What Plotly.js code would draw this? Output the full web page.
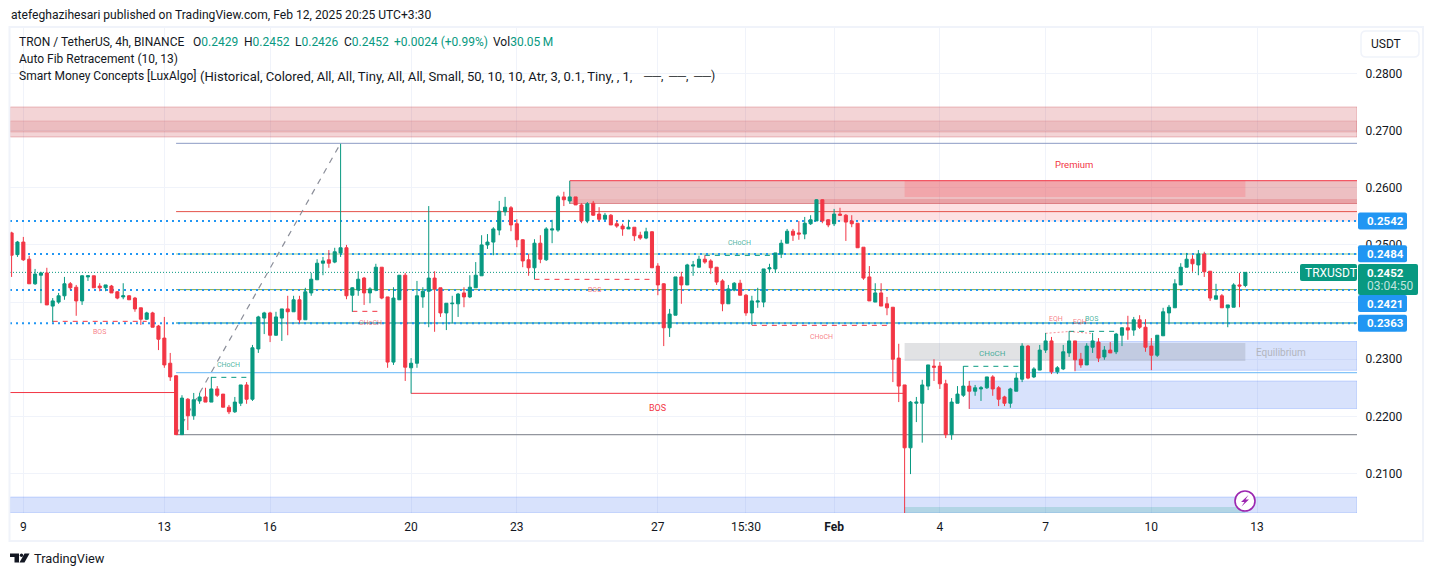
<!DOCTYPE html>
<html><head><meta charset="utf-8">
<script src="https://cdn.plot.ly/plotly-3.0.1.min.js"></script>
<style>html,body{margin:0;padding:0;background:#fff;overflow:hidden}#c{width:1433px;height:576px}</style>
</head><body><div id="c"></div>
<script>
// ---------- candle data (4h TRX/USDT) ----------
const open_ = [.2521,.2483,.2505,.2475,.2432,.2447,.2451,.2393,.2400,.2411,.2432,.2426,.2402,.2444,.2446,.2428,.2425,.2428,.2418,.2409,.2411,.2407,.2390,.2370,.2381,.2358,.2337,.2293,.2271,.2168,
.2230,.2201,.2227,.2234,.2225,.2248,.2239,.2216,.2208,.2223,.2255,.2230,.2318,.2372,.2381,.2342,.2372,.2388,.2383,.2404,.2369,.2416,.2439,.2468,.2474,.2470,.2486,.2495,.2412,.2421,
.2442,.2416,.2421,.2461,.2409,.2295,.2404,.2447,.2285,.2293,.2409,.2419,.2442,.2425,.2381,.2397,.2397,.2416,.2409,.2425,.2446,.2500,.2505,.2526,.2558,.2565,.2537,.2509,.2474,.2460,
.2503,.2474,.2526,.2526,.2584,.2577,.2584,.2570,.2542,.2573,.2554,.2545,.2552,.2537,.2533,.2528,.2531,.2517,.2512,.2523,.2463,.2432,.2355,.2377,.2444,.2430,.2463,.2461,.2475,.2472,
.2461,.2437,.2397,.2421,.2433,.2412,.2381,.2400,.2400,.2458,.2458,.2484,.2503,.2524,.2521,.2519,.2537,.2542,.2579,.2544,.2537,.2554,.2552,.2542,.2538,.2496,.2444,.2400,.2416,.2397,
.2391,.2302,.2255,.2145,.2223,.2223,.2253,.2288,.2288,.2257,.2168,.2223,.2237,.2253,.2244,.2248,.2250,.2269,.2250,.2234,.2223,.2244,.2265,.2323,.2269,.2281,.2316,.2332,.2278,.2283,
.2311,.2332,.2300,.2290,.2321,.2330,.2304,.2316,.2313,.2342,.2355,.2351,.2369,.2356,.2323,.2307,.2341,.2381,.2390,.2430,.2461,.2475,.2465,.2484,.2454,.2405,.2411,.2390,.2391,.2430,.2429];
const high_ = [.2523,.2507,.2514,.2481,.2458,.2453,.2460,.2407,.2416,.2444,.2435,.2430,.2447,.2447,.2446,.2433,.2430,.2430,.2419,.2433,.2412,.2409,.2390,.2383,.2383,.2360,.2374,.2311,.2272,.2237,
.2232,.2241,.2241,.2250,.2269,.2253,.2239,.2220,.2234,.2255,.2260,.2325,.2376,.2383,.2383,.2383,.2388,.2411,.2411,.2411,.2425,.2451,.2475,.2479,.2491,.2495,.2677,.2500,.2426,.2454,
.2444,.2426,.2467,.2461,.2409,.2426,.2447,.2451,.2302,.2437,.2426,.2568,.2454,.2425,.2398,.2411,.2416,.2426,.2447,.2470,.2517,.2519,.2531,.2577,.2584,.2568,.2545,.2510,.2484,.2510,
.2517,.2531,.2544,.2587,.2593,.2612,.2584,.2573,.2575,.2577,.2566,.2556,.2554,.2542,.2537,.2544,.2531,.2523,.2530,.2524,.2468,.2433,.2388,.2444,.2453,.2467,.2472,.2481,.2482,.2475,
.2461,.2440,.2430,.2435,.2439,.2414,.2411,.2425,.2458,.2467,.2486,.2509,.2528,.2528,.2542,.2549,.2552,.2580,.2580,.2545,.2563,.2565,.2554,.2552,.2538,.2496,.2463,.2433,.2433,.2409,
.2391,.2327,.2255,.2227,.2234,.2264,.2290,.2300,.2295,.2264,.2232,.2253,.2288,.2262,.2255,.2253,.2269,.2272,.2253,.2236,.2250,.2276,.2328,.2325,.2286,.2325,.2346,.2339,.2288,.2325,
.2349,.2332,.2311,.2328,.2346,.2337,.2323,.2330,.2346,.2356,.2376,.2374,.2377,.2370,.2337,.2342,.2390,.2395,.2440,.2468,.2486,.2482,.2491,.2488,.2454,.2432,.2414,.2395,.2433,.2451,.2452];
const low_ = [.2444,.2479,.2472,.2432,.2430,.2398,.2395,.2365,.2397,.2404,.2421,.2376,.2395,.2437,.2425,.2419,.2419,.2416,.2405,.2405,.2404,.2383,.2360,.2369,.2356,.2316,.2285,.2262,.2168,.2168,
.2176,.2194,.2222,.2225,.2225,.2234,.2216,.2204,.2206,.2218,.2222,.2227,.2311,.2344,.2330,.2341,.2332,.2342,.2383,.2363,.2369,.2411,.2439,.2447,.2460,.2468,.2479,.2405,.2383,.2411,
.2395,.2398,.2419,.2405,.2285,.2290,.2404,.2262,.2240,.2285,.2390,.2356,.2348,.2374,.2351,.2363,.2374,.2391,.2407,.2425,.2446,.2493,.2482,.2517,.2551,.2524,.2496,.2461,.2446,.2440,
.2468,.2472,.2503,.2523,.2568,.2572,.2570,.2538,.2538,.2551,.2542,.2544,.2535,.2530,.2516,.2528,.2507,.2509,.2510,.2460,.2412,.2323,.2339,.2377,.2397,.2430,.2446,.2461,.2467,.2449,
.2430,.2384,.2397,.2419,.2412,.2376,.2360,.2390,.2391,.2451,.2451,.2477,.2503,.2507,.2509,.2510,.2535,.2542,.2538,.2531,.2533,.2551,.2507,.2531,.2495,.2439,.2402,.2400,.2393,.2377,
.2260,.2225,.2030,.2099,.2190,.2154,.2246,.2262,.2248,.2162,.2159,.2223,.2234,.2213,.2236,.2227,.2248,.2236,.2218,.2218,.2215,.2244,.2260,.2265,.2267,.2281,.2311,.2274,.2274,.2281,
.2304,.2279,.2285,.2290,.2311,.2295,.2299,.2311,.2309,.2323,.2334,.2341,.2353,.2313,.2281,.2304,.2341,.2363,.2390,.2430,.2461,.2453,.2447,.2444,.2402,.2405,.2390,.2356,.2391,.2391,.2426];
const close_ = [.2482,.2505,.2474,.2432,.2449,.2451,.2395,.2402,.2411,.2432,.2425,.2402,.2446,.2446,.2425,.2425,.2430,.2416,.2407,.2411,.2404,.2388,.2370,.2381,.2356,.2335,.2290,.2269,.2168,.2232,
.2201,.2229,.2234,.2225,.2248,.2237,.2216,.2208,.2225,.2255,.2230,.2320,.2374,.2381,.2342,.2374,.2388,.2383,.2404,.2369,.2418,.2440,.2468,.2472,.2468,.2488,.2495,.2411,.2425,.2440,
.2416,.2423,.2461,.2407,.2295,.2407,.2447,.2286,.2293,.2411,.2419,.2442,.2423,.2381,.2398,.2398,.2414,.2409,.2426,.2447,.2500,.2505,.2528,.2559,.2566,.2535,.2509,.2472,.2460,.2503,
.2475,.2528,.2528,.2584,.2579,.2584,.2570,.2542,.2572,.2552,.2545,.2552,.2535,.2533,.2528,.2531,.2516,.2512,.2523,.2460,.2430,.2355,.2379,.2444,.2430,.2465,.2465,.2475,.2470,.2460,
.2435,.2397,.2423,.2433,.2412,.2381,.2402,.2402,.2458,.2460,.2486,.2503,.2524,.2517,.2519,.2538,.2544,.2579,.2542,.2535,.2554,.2552,.2540,.2537,.2495,.2442,.2402,.2416,.2393,.2390,
.2300,.2253,.2145,.2225,.2225,.2255,.2290,.2286,.2257,.2168,.2225,.2239,.2253,.2244,.2250,.2250,.2269,.2248,.2230,.2223,.2248,.2267,.2323,.2267,.2283,.2316,.2332,.2278,.2285,.2313,
.2332,.2299,.2290,.2323,.2332,.2302,.2316,.2311,.2344,.2355,.2351,.2369,.2356,.2321,.2307,.2342,.2383,.2391,.2432,.2461,.2475,.2467,.2484,.2453,.2407,.2411,.2390,.2395,.2430,.2428,.2452];
const candleIndex = open_.map((_, i) => i);

// ---------- axes ----------
const priceTicks = [.21,.22,.23,.24,.25,.26,.27,.28];
const timeTickIndex = [2,26,44,68,86,110,125,140,158,176,194,212];
const timeTickLabels = ['9','13','16','20','23','27','15:30','<b>Feb</b>','4','7','10','13'];

// ---------- indicator levels (prices) ----------
const priceLineLevels = [.2542,.2484,.2421,.2363];
const lastClose = .2452;
const fibLevels = [.26778,.25583,.24841,.24218,.23634,.22764,.21679];
const upperSupply = [.26889,.27414];
const upperSupplyCore = [.26976,.27169];
const premiumZone = [.25725,.26124];
const premiumCore = [.25839,.26124];
const premiumEdge = [.25725,.25804];
const premiumLight = [.25410,.25804];
const equilibriumZone = [.22969,.23284];
const demandUpper = [.22806,.23310];
const demandLower = [.22137,.22619];
const demandBottom = [.20309,.20588];
const demandBottomCore = [.20309,.20413];
const bosLevelLeft = .22417;
const bosLevelMid = .22403;
// structure breaks: [start candle, end candle, price]
const structBos1 = [7,23,.23663];
const structChochUp1 = [34,41,.22683];
const structChochDown1 = [58,63,.23838];
const structBos2 = [89,109,.24398];
const structChochUp2 = [118,130,.24818];
const structChochDown2 = [126,150,.23593];
const structChochUp3 = [162,172,.22876];
const structBos3 = [180,188,.23488];
const eqhA = [176,180,.23453,.23485];
const eqhB = [180,184,.23485,.23450];
const impulse = [28,56,.21679,.26778];

// ---------- layout ----------
const W=1433,H=576,L=10,R=1357,T=28,B=513;
const xR=[-0.27,229.0], yR=[.20309,.28796];
const X0=xR[0],X1=xR[1];
const px=x=>(x-L)/(R-L), py=y=>(B-y)/(B-T);
const FONT='Roboto, sans-serif', INK='#131722', UP='#089981', DOWN='#F23645', BLUE='#2196F3';

const shapes=[];
const below=(o)=>shapes.push(Object.assign({layer:'between',xref:'x',yref:'y'},o));
const hline=(x0,x1,y,color,width,dash)=>below({type:'line',x0,x1,y0:y,y1:y,line:{color,width,dash:dash||'solid'}});
const zone=(x0,x1,pair,fill,border)=>below({type:'rect',x0,x1,y0:pair[0],y1:pair[1],fillcolor:fill,line:{width:border?1:0,color:border||'rgba(0,0,0,0)'}});
const redA=a=>`rgba(200,60,70,${a})`;
const BLUEFILL='rgba(60,110,240,.2)', BLUEEDGE='rgba(41,98,255,.22)';

zone(X0,X1,upperSupply,redA(.22),redA(.3));
zone(X0,X1,upperSupplyCore,redA(.15),redA(.18));
zone(138,X1,premiumLight,'rgba(242,54,69,.15)');
zone(95,X1,premiumZone,redA(.33));
zone(95,X1,premiumEdge,redA(.08));
zone(152,210,premiumCore,'rgba(250,100,110,.28)');
hline(95,X1,premiumZone[1],DOWN,1);
hline(95,X1,premiumZone[0],redA(.5),1);
zone(181,X1,demandUpper,BLUEFILL,BLUEEDGE);
zone(163,X1,demandLower,BLUEFILL,BLUEEDGE);
zone(X0,X1,demandBottom,BLUEFILL,BLUEEDGE);
zone(152,210,demandBottomCore,'rgba(8,153,129,.18)');
zone(152,210,equilibriumZone,'rgba(120,123,134,.22)');

const fibColors=['#8C9BC4','#E5534B','#81C784','#7FA84A','#00897B','#64B5F6','#787B86'];
fibLevels.forEach((y,k)=>hline(28,X1,y,fibColors[k],1));
below({type:'line',x0:impulse[0],x1:impulse[1],y0:impulse[2],y1:impulse[3],line:{color:'#8b8e99',width:1.2,dash:'6px,6px'}});

hline(X0,28,bosLevelLeft,DOWN,1);
hline(68,152,bosLevelMid,DOWN,1);
const D='5px,5px';
const struct=(a,c)=>hline(a[0],a[1],a[2],c,1,D);
struct(structBos1,DOWN);struct(structChochUp1,UP);struct(structChochDown1,DOWN);struct(structBos2,DOWN);
struct(structChochUp2,UP);struct(structChochDown2,DOWN);struct(structChochUp3,UP);struct(structBos3,UP);
[eqhA,eqhB].forEach(e=>below({type:'line',x0:e[0],x1:e[1],y0:e[2],y1:e[3],line:{color:'rgba(242,54,69,.55)',width:1,dash:'2px,2px'}}));
priceLineLevels.forEach(y=>hline(X0,X1,y,BLUE,2,'2px,4px'));
hline(X0,X1,lastClose,UP,1,'1px,2px');

// page furniture in pixel terms
const over=(o)=>shapes.push(Object.assign({layer:'above',xref:'paper',yref:'paper'},o));
const rr=(x0,y0,x1,y1,r)=>{const a=px,b=py;return `M${a(x0+r)},${b(y0)}L${a(x1-r)},${b(y0)}Q${a(x1)},${b(y0)} ${a(x1)},${b(y0+r)}L${a(x1)},${b(y1-r)}Q${a(x1)},${b(y1)} ${a(x1-r)},${b(y1)}L${a(x0+r)},${b(y1)}Q${a(x0)},${b(y1)} ${a(x0)},${b(y1-r)}L${a(x0)},${b(y0+r)}Q${a(x0)},${b(y0)} ${a(x0+r)},${b(y0)}Z`;};
const poly=pts=>'M'+pts.map(p=>px(p[0])+','+py(p[1])).join('L')+'Z';
over({type:'rect',x0:px(9.5),x1:px(1423),y0:py(27),y1:py(541),line:{color:'#f0f3fa',width:2},fillcolor:'rgba(0,0,0,0)'});
over({type:'path',path:rr(1361,31,1419,57,5),line:{color:'#f0f3fa',width:1.5},fillcolor:'#fff'});
const ann=[];
const text=(x,y,t,o)=>ann.push(Object.assign({xref:'paper',yref:'paper',x:px(x),y:py(y),text:t,showarrow:false,xanchor:'left',yanchor:'middle',borderpad:0,
  font:Object.assign({family:FONT,size:12,color:INK},(o&&o.font)||{})},o&&o.a||{}));
[[.2542,221],[.2484,253.7],[.2421,303.5],[.2363,323.3]].forEach((l,k)=>{
  const yc=l[1];
  over({type:'path',path:rr(1358,yc-8.5,1407,yc+8.5,2),line:{width:0},fillcolor:BLUE});
  text(1366,yc,priceLineLevels[k].toFixed(4),{font:{color:'#fff',size:11.5,weight:700}});
});
over({type:'path',path:rr(1300,264,1357,281,2),line:{width:0},fillcolor:UP});
over({type:'path',path:rr(1358,264,1418,295,2),line:{width:0},fillcolor:UP});
text(1304,272.5,'TRXUSDT',{font:{color:'#fff',size:12}});
text(1366,272.5,lastClose.toFixed(4),{font:{color:'#fff',size:11.5,weight:700}});
text(1366,286,'03:04:50',{font:{color:'rgba(255,255,255,.75)',size:12}});
text(1370,44,'USDT',{font:{size:12}});

text(9.5,15,'atefeghazihesari published on TradingView.com, Feb 12, 2025 20:25 UTC+3:30',{font:{size:12.1}});
text(18,42,'TRON / TetherUS, 4h, BINANCE');
const g=s=>`<span style="color:${UP}">${s}</span>`;
text(192,42,'O'+g('0.2429'));text(243,42,'H'+g('0.2452'));text(294,42,'L'+g('0.2426'));text(343,42,'C'+g('0.2452'));
text(393,42,g('+0.0024 (+0.99%)'));text(492,42,'Vol'+g('30.05\u2009M'));
text(18,59,'Auto Fib Retracement (10, 13)');
text(18,76,'Smart Money Concepts [LuxAlgo]');
text(199,76,'(Historical, Colored, All, All, Tiny, All, All, Small, 50, 10, 10, Atr, 3, 0.1, Tiny, , 1,',{font:{size:13.05}});
text(642,76,'──,');text(667,76,'──,');text(692,76,'──)');
text(33,558,'TradingView',{font:{size:12.8}});
over({type:'path',path:poly([[10,553.5],[19,553.5],[19,562.5],[14.5,562.5],[14.5,557],[10,557]]),line:{width:0},fillcolor:INK});
over({type:'circle',x0:px(19.8),x1:px(23.2),y0:py(553.5),y1:py(557),line:{width:0},fillcolor:INK});
over({type:'path',path:poly([[24.5,553.5],[29.5,553.5],[24.5,562.5],[19.5,562.5]]),line:{width:0},fillcolor:INK});
over({type:'circle',x0:px(1235),x1:px(1255),y0:py(491),y1:py(511),line:{color:'#9C27B0',width:1.6},fillcolor:'#fff'});
over({type:'path',path:poly([[1248.5,495],[1241,502],[1244.5,502],[1241.5,506.5],[1249,499.5],[1245.5,499.5]]),line:{width:0},fillcolor:'#9C27B0'});

const mid=(x,y,t,color,size)=>text(x,y,t,{font:{color,size},a:{xanchor:'center'}});
const R1='rgba(242,54,69,.65)',G1='rgba(8,153,129,.75)';
mid(99,332,'BOS',R1,7);mid(228,365,'CHoCH',G1,7);mid(370,323,'CHoCH',R1,7);mid(594,290,'BOS',R1,7);
mid(739,243,'CHoCH',G1,7);mid(821,337,'CHoCH',R1,7);mid(992,353,'CHoCH',G1,8);mid(1056,318.5,'EQH',R1,7);
mid(1080,321.5,'EQH',R1,7);mid(1091.5,318.5,'BOS',G1,7);mid(657,408,'BOS',DOWN,9);mid(1074,164.5,'Premium',DOWN,9.5);
mid(1281,352,'Equilibrium','#b2b5be',10);

const trace={type:'candlestick',x:candleIndex,open:open_,high:high_,low:low_,close:close_,
  increasing:{line:{color:UP,width:1},fillcolor:UP},decreasing:{line:{color:DOWN,width:1},fillcolor:DOWN},whiskerwidth:0,hoverinfo:'skip'};
const layout={width:W,height:H,autosize:false,margin:{l:L,r:W-R,t:T,b:H-B,pad:0},paper_bgcolor:'#fff',plot_bgcolor:'#fff',showlegend:false,hovermode:false,boxgap:.25,
  font:{family:FONT,size:12,color:INK},
  xaxis:{type:'linear',range:xR,rangeslider:{visible:false},tickmode:'array',tickvals:timeTickIndex,ticktext:timeTickLabels,showgrid:true,gridcolor:'#f0f3fa',gridwidth:1,zeroline:false,showline:false,ticks:'outside',ticklen:3,tickcolor:'rgba(0,0,0,0)',tickfont:{family:FONT,size:12,color:INK}},
  yaxis:{side:'right',range:yR,tickmode:'array',tickvals:priceTicks,ticktext:priceTicks.map(v=>v.toFixed(4)),showgrid:true,gridcolor:'#f0f3fa',gridwidth:1,zeroline:false,showline:false,ticks:'outside',ticklen:5,tickcolor:'rgba(0,0,0,0)',tickfont:{family:FONT,size:12,color:INK}},
  shapes,annotations:ann};
Plotly.newPlot('c',[trace],layout,{staticPlot:true,displayModeBar:false});
</script></body></html>
